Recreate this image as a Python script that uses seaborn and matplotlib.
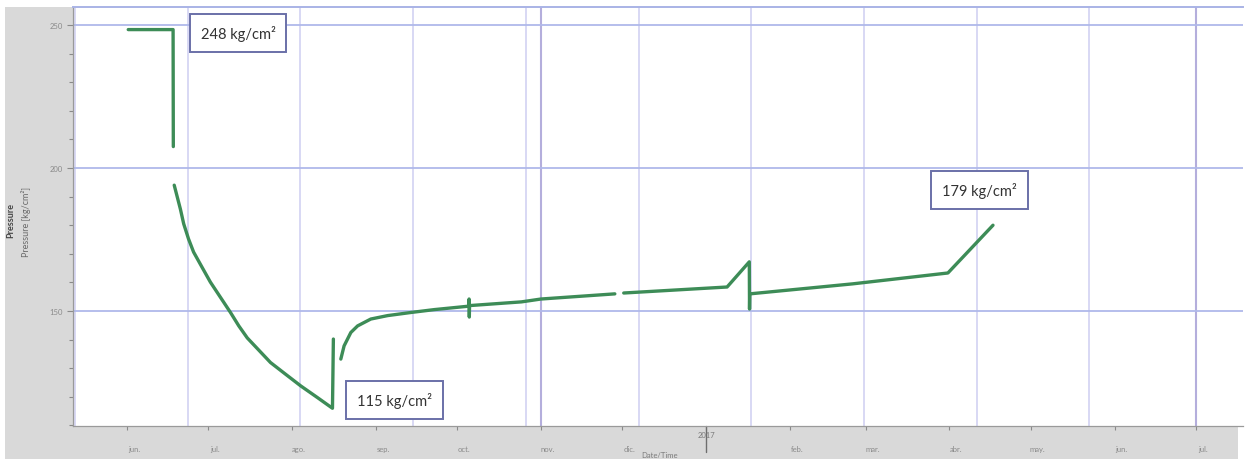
import pandas as pd
import matplotlib
matplotlib.use("Agg")
import matplotlib.pyplot as plt
import matplotlib.transforms as mtransforms
from matplotlib.patches import Rectangle
from matplotlib.ticker import MultipleLocator
import seaborn as sns

# Pressure readings (segments are drawn separately so gaps stay open)
times = [
    "2016-06-01 10:00", "2016-06-18 00:00", "2016-06-18 02:00",
    "2016-06-18 10:00", "2016-06-20 17:00", "2016-06-21 22:00", "2016-06-23 17:00",
    "2016-06-25 14:00", "2016-06-28 17:00", "2016-07-01 19:00", "2016-07-05 12:00",
    "2016-07-09 05:00", "2016-07-12 07:00", "2016-07-15 10:00", "2016-07-19 17:00",
    "2016-07-24 00:00", "2016-07-29 14:00", "2016-08-04 05:00", "2016-08-10 10:00",
    "2016-08-15 22:00", "2016-08-16 06:00",
    "2016-08-19 00:00", "2016-08-20 05:00", "2016-08-22 17:00", "2016-08-25 05:00",
    "2016-08-30 02:00", "2016-09-05 07:00", "2016-09-14 00:00", "2016-09-22 14:00",
    "2016-10-05 07:00", "2016-10-05 10:00", "2016-10-05 12:00", "2016-10-05 14:00",
    "2016-10-24 19:00", "2016-11-01 00:00", "2016-11-28 07:00",
    "2016-12-01 14:00", "2017-01-08 19:00", "2017-01-17 00:00", "2017-01-17 02:00",
    "2017-01-17 04:00", "2017-02-24 05:00", "2017-03-31 10:00", "2017-04-17 02:00",
]
pressure = [
    248.4, 248.4, 207.5,
    194.0, 185.6, 180.5, 175.2,
    170.6, 165.3, 160.1, 154.8,
    149.5, 144.8, 140.6, 136.3,
    132.0, 127.9, 123.8, 119.7,
    116.0, 140.2,
    133.2, 137.8, 142.5, 144.8,
    147.2, 148.4, 149.5, 150.5,
    151.7, 154.2, 147.9, 151.9,
    153.2, 154.2, 156.0,
    156.3, 158.4, 167.2, 150.7,
    156.0, 159.5, 163.3, 180.0,
]
segment = [1] * 3 + [2] * 18 + [3] * 15 + [4] * 8

month_labels = ["jun.", "jul.", "ago.", "sep.", "oct.", "nov.", "dic.", "",
                "feb.", "mar.", "abr.", "may.", "jun.", "jul."]
callout_labels = ["248 kg/cm²", "115 kg/cm²", "179 kg/cm²"]

df = pd.DataFrame({"time": pd.to_datetime(times), "pressure": pressure, "segment": segment})

sns.set_theme(style="white")
plt.rcParams["font.family"] = ["Lato", "DejaVu Sans"]

W, H = 1250, 460
fig = plt.figure(figsize=(12.5, 4.6), dpi=100, facecolor="white")

# grey panels behind the axis labels
panel = "#d9d9d9"
fig.patches.append(Rectangle((5 / W, 0), 68 / W, 452 / H, transform=fig.transFigure,
                             facecolor=panel, edgecolor="none", zorder=-1))
fig.patches.append(Rectangle((5 / W, 0), 1233 / W, 33 / H, transform=fig.transFigure,
                             facecolor=panel, edgecolor="none", zorder=-1))

ax = fig.add_axes([73 / W, 33 / H, 1170 / W, 419 / H])
ax.set_facecolor("white")

# grid
for t in pd.date_range("2016-05-12 17:00", periods=10, freq="1000h"):
    ax.axvline(t, color="#d2d2f2", lw=1.2, zorder=1)
for t in ["2016-11-01", "2017-07-01"]:
    ax.axvline(pd.Timestamp(t), color="#b4aedc", lw=1.5, zorder=1)
for v in [150, 200, 250]:
    ax.axhline(v, color="#b0b9ea", lw=1.3, zorder=1)

sns.lineplot(data=df, x="time", y="pressure", units="segment", estimator=None,
             color="#3d8c57", lw=2.4, ax=ax, zorder=3, legend=False)

ax.set_xlim(pd.Timestamp("2016-05-12"), pd.Timestamp("2017-07-18 12:00"))
ax.set_ylim(109.8, 256.3)

# y axis
ax.set_yticks([150, 200, 250])
ax.yaxis.set_minor_locator(MultipleLocator(10))
ax.tick_params(axis="y", which="both", left=True, direction="out", colors="#8a8a8a",
               labelsize=5.5, length=4, width=0.8)
ax.tick_params(axis="y", which="minor", length=3)

# x axis
month_starts = pd.date_range("2016-06-01", "2017-07-01", freq="MS")
ax.set_xticks(month_starts)
ax.set_xticklabels(month_labels)
ax.tick_params(axis="x", bottom=True, direction="out", colors="#8a8a8a",
               labelsize=5.5, length=3, width=0.8, pad=11)
offset = mtransforms.ScaledTranslation(5 / 72, 0, fig.dpi_scale_trans)
for lbl in ax.get_xticklabels():
    lbl.set_transform(lbl.get_transform() + offset)

jan = pd.Timestamp("2017-01-01")
ax.plot([jan, jan], [0, -26 / 419], transform=ax.get_xaxis_transform(),
        color="#6e6e6e", lw=1.0, clip_on=False)
ax.text(jan, -5 / 419, "2017", transform=ax.get_xaxis_transform(), ha="center",
        va="top", fontsize=5.5, color="#7a7a7a")

ax.set_xlabel("")
ax.set_ylabel("")

for side in ["left", "bottom"]:
    ax.spines[side].set_color("#9a9a9a")
    ax.spines[side].set_linewidth(0.9)
ax.spines["top"].set_color("#a9b3e6")
ax.spines["top"].set_linewidth(1.4)
ax.spines["right"].set_visible(False)

# axis titles
fig.text(11 / W, 1 - 221 / H, "Pressure", rotation=90, fontweight="bold",
         fontsize=6.5, color="#444444", ha="center", va="center")
fig.text(26 / W, 1 - 222 / H, "Pressure [kg/cm²]", rotation=90, fontsize=6.5,
         color="#6a6a6a", ha="center", va="center")
fig.text(660 / W, 1 - 459.5 / H, "Date/Time", fontsize=5.5, color="#7a7a7a",
         ha="center", va="bottom")

# callout boxes
box = dict(boxstyle="square,pad=0.75", facecolor="white", edgecolor="#6a70a8", lw=1.4)
ax.text(pd.Timestamp("2016-07-12"), 247.2, callout_labels[0], ha="center", va="center",
        fontsize=10.5, color="#333333", bbox=box, zorder=5)
ax.text(pd.Timestamp("2016-09-08"), 118.9, callout_labels[1], ha="center", va="center",
        fontsize=10.5, color="#333333", bbox=box, zorder=5)
ax.text(pd.Timestamp("2017-04-12"), 192.3, callout_labels[2], ha="center", va="center",
        fontsize=10.5, color="#333333", bbox=box, zorder=5)

fig.savefig("out.png", dpi=100, facecolor=fig.get_facecolor())
